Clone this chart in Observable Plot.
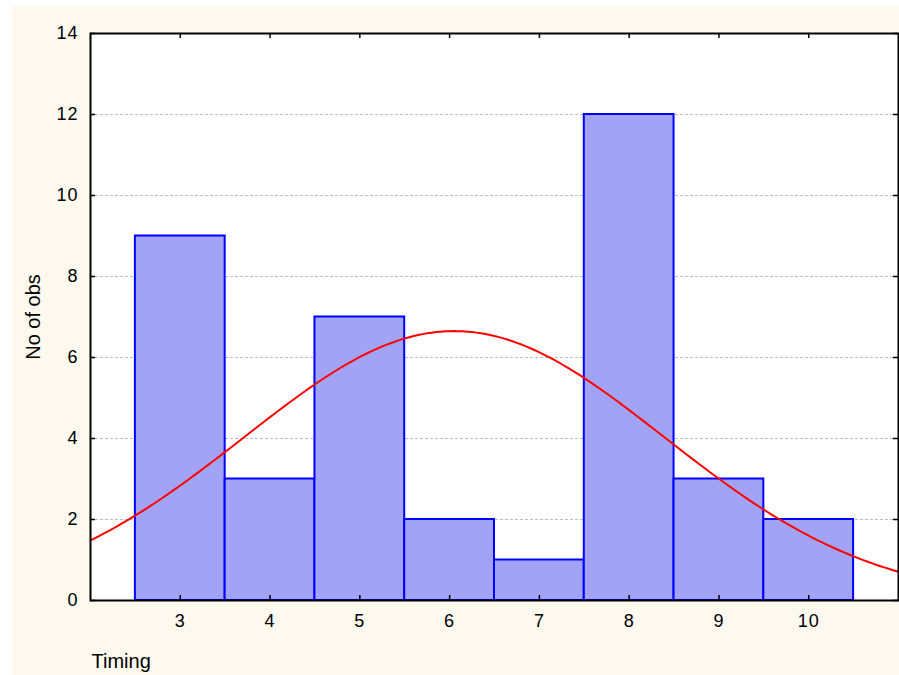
<!DOCTYPE html>
<html>
<head>
<meta charset="utf-8">
<script src="https://cdn.jsdelivr.net/npm/d3@7"></script>
<script src="https://cdn.jsdelivr.net/npm/@observablehq/plot@0.6"></script>
<style>
  html, body { margin: 0; padding: 0; background: #ffffff; }
  #chart { position: absolute; left: 12px; top: 6px; }
  #chart svg { display: block; background: #fdf9ef; }
  #chart g[aria-label$="tick label"] { letter-spacing: 1px; }
</style>
</head>
<body>
<div id="chart"></div>
<script>
// Histogram data
const timing = [3, 4, 5, 6, 7, 8, 9, 10];
const counts = [9, 3, 7, 2, 1, 12, 3, 2];
const yTicks = [0, 2, 4, 6, 8, 10, 12, 14];
const gridTicks = [2, 4, 6, 8, 10, 12];
const xTicks = [3, 4, 5, 6, 7, 8, 9, 10];
const xLabel = "Timing";
const yLabel = "No of obs";

const bars = timing.map((t, i) => ({timing: t, count: counts[i]}));

// Fitted normal curve (expected counts, bin width 1) from the histogram data
const n = d3.sum(counts);
const mean = d3.sum(bars, d => d.timing * d.count) / n;
const variance = d3.sum(bars, d => d.count * (d.timing - mean) ** 2) / (n - 1);
const sd = Math.sqrt(variance);
const curveXs = d3.range(2, 11.0001, 0.05);
const curve = curveXs.map(x => ({
  x,
  y: n / (sd * Math.sqrt(2 * Math.PI)) * Math.exp(-0.5 * ((x - mean) / sd) ** 2)
}));

const W = 887, H = 669;
const mL = 78, mT = 27, mR = 1, mB = 75;
const innerW = W - mL - mR, innerH = H - mT - mB;
const tickLen = 5;

const svg = Plot.plot({
  width: W,
  height: H,
  marginLeft: mL,
  marginTop: mT,
  marginRight: mR,
  marginBottom: mB,
  style: {fontFamily: "'Liberation Sans', Arial, sans-serif", color: "black", background: "#fdf9ef"},
  x: {domain: [2, 11]},
  y: {domain: [0, 14]},
  marks: [
    Plot.frame({fill: "white", stroke: "none"}),
    Plot.ruleY(gridTicks, {stroke: "#bdbdbd", strokeWidth: 1, strokeDasharray: "3,2"}),
    Plot.rectY(bars, {
      x1: d => d.timing - 0.5,
      x2: d => d.timing + 0.5,
      y1: 0,
      y2: "count",
      fill: "#a3a3f6",
      stroke: "#0000ff",
      strokeWidth: 2
    }),
    Plot.line(curve, {x: "x", y: "y", stroke: "#ff0000", strokeWidth: 2, curve: "linear"}),
    // inward tick marks on all four sides
    Plot.ruleY(yTicks, {insetRight: innerW - tickLen, stroke: "black", strokeWidth: 1.5}),
    Plot.ruleY(yTicks, {insetLeft: innerW - tickLen, stroke: "black", strokeWidth: 1.5}),
    Plot.ruleX(xTicks, {insetTop: innerH - tickLen, stroke: "black", strokeWidth: 1.5}),
    Plot.ruleX(xTicks, {insetBottom: innerH - tickLen, stroke: "black", strokeWidth: 1.5}),
    Plot.frame({stroke: "black", strokeWidth: 2}),
    Plot.axisY(yTicks, {tickSize: 0, tickPadding: 12, fontSize: 18, label: null}),
    Plot.axisX(xTicks, {tickSize: 0, tickPadding: 14, fontSize: 18, label: null}),
    Plot.text([xLabel], {
      text: d => d,
      frameAnchor: "bottom-left",
      textAnchor: "start",
      lineAnchor: "bottom",
      dy: 67,
      dx: 1,
      fontSize: 20
    }),
    Plot.text([yLabel], {
      text: d => d,
      frameAnchor: "left",
      rotate: -90,
      textAnchor: "middle",
      lineAnchor: "middle",
      dx: -56.5,
      fontSize: 20
    })
  ]
});

document.getElementById("chart").appendChild(svg);
</script>
</body>
</html>
